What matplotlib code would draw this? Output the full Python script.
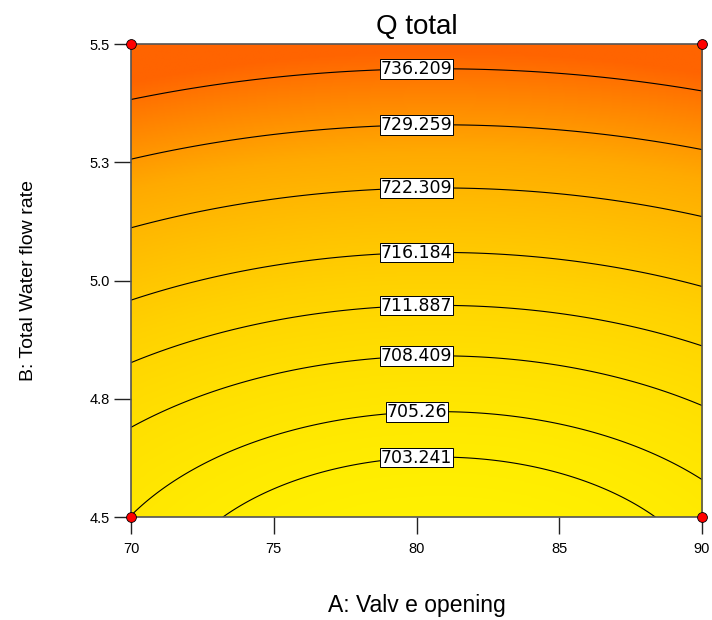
import numpy as np
import matplotlib
matplotlib.use("Agg")
import matplotlib.pyplot as plt
from matplotlib.colors import LinearSegmentedColormap

plt.rcParams["font.family"] = ["Liberation Sans", "DejaVu Sans"]

# coded quadratic model: a = (A-80)/10, b = (B-5)/0.5
intercept = 713.84
coef_a = -0.531
coef_aa = 3.35
coef_b = 19.1
coef_bb = 6.6

levels = [703.241, 705.26, 708.409, 711.887, 716.184, 722.309, 729.259, 736.209]
x_ticks = [70, 75, 80, 85, 90]
y_ticks = [4.5, 4.75, 5.0, 5.25, 5.5]
y_tick_labels = ["4.5", "4.8", "5.0", "5.3", "5.5"]
design_A = [70, 90, 70, 90]
design_B = [4.5, 4.5, 5.5, 5.5]

A = np.linspace(70, 90, 401)
B = np.linspace(4.5, 5.5, 401)
AA, BB = np.meshgrid(A, B)
a = (AA - 80) / 10
b = (BB - 5) / 0.5
Q = intercept + coef_a * a + coef_aa * a ** 2 + coef_b * b + coef_bb * b ** 2

cmap = LinearSegmentedColormap.from_list(
    "yo", ["#fff200", "#ffd200", "#ffaa00", "#ff6400"])

fig = plt.figure(figsize=(7.12, 6.2), dpi=100)
ax = fig.add_axes([0.184, 0.166, 0.802, 0.763])
ax.imshow(Q, extent=[70, 90, 4.5, 5.5], origin="lower", aspect="auto",
          cmap=cmap, vmin=701.0, vmax=738.5, interpolation="bilinear")
cs = ax.contour(AA, BB, Q, levels=levels, colors="black", linewidths=0.8)

# label each line near A = 80
col = Q[:, 200]
manual = [(80, np.interp(lv, col, B)) for lv in levels]
fmt = {lv: "%g" % lv for lv in levels}
texts = ax.clabel(cs, levels, inline=True, fmt=fmt, fontsize=12.5,
                  manual=manual, inline_spacing=1)
for t in texts:
    t.set_rotation(0)
    t.set_family(["DejaVu Sans"])
    t.set_bbox(dict(facecolor="white", edgecolor="black", linewidth=0.7,
                    pad=0.5))

ax.scatter(design_A, design_B, s=50, c="red", edgecolors="black",
           linewidths=0.6, zorder=5, clip_on=False)

ax.set_xlim(70, 90)
ax.set_ylim(4.5, 5.5)
ax.set_xticks(x_ticks)
ax.set_yticks(y_ticks)
ax.set_yticklabels(y_tick_labels)
ax.tick_params(direction="out", length=12, width=1, labelsize=10.5,
               color="#222222", pad=3)
ax.tick_params(axis="x", pad=6)
for s in ax.spines.values():
    s.set_color("#555555")
    s.set_linewidth(1.2)

ax.set_title("Q total", fontsize=20, pad=7)
ax.set_xlabel("A: Valv e opening", fontsize=16.5)
ax.xaxis.set_label_coords(0.5, -0.186)
ax.xaxis.label.set_va("center")
ax.set_ylabel("B: Total Water flow rate", fontsize=14)
ax.yaxis.set_label_coords(-0.18, 0.5)
ax.yaxis.label.set_va("center")

fig.savefig("out.png", dpi=100)
